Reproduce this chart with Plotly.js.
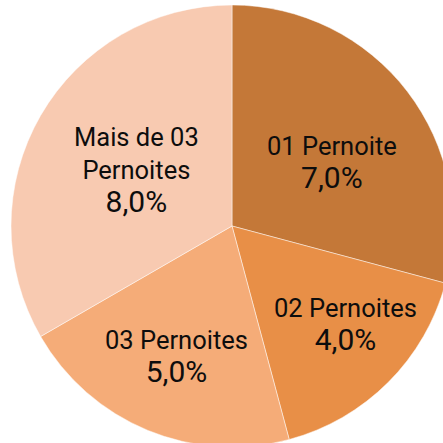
<!DOCTYPE html>
<html>
<head>
<meta charset="utf-8">
<script src="https://cdn.plot.ly/plotly-3.0.1.min.js"></script>
<style>
html,body{margin:0;padding:0;overflow:hidden;background:#fff;width:443px;height:443px;}
#chart{width:453px;height:447px;}
</style>
</head>
<body>
<div id="chart"></div>
<script>
const categories = ["01 Pernoite", "02 Pernoites", "03 Pernoites", "Mais de 03<br>Pernoites"];
const values = [7.0, 4.0, 5.0, 8.0];
const colors = ["#C47838", "#E88F47", "#F5AC78", "#F8CAB1"];

// label placement (styling): radial fraction and angular offset from slice mid-angle
const labelRadius = [0.533, 0.680, 0.645, 0.499];
const labelAngleOffset = [5.2, -3.8, 0.6, 0.5];

const trace = {
  type: "pie",
  labels: categories,
  values: values,
  sort: false,
  direction: "clockwise",
  rotation: 0,
  marker: {colors: colors, line: {color: "rgba(255,255,255,0.6)", width: 0.8}},
  textinfo: "none",
  hoverinfo: "none",
  showlegend: false
};

const total = values.reduce((a, b) => a + b, 0);
const fmt = v => v.toFixed(1).replace(".", ",") + "%";
let cum = 0;
const annotations = values.map((v, i) => {
  const mid = (cum + v / 2) / total * 360 + labelAngleOffset[i];
  cum += v;
  const a = mid * Math.PI / 180;
  return {
    xref: "paper", yref: "paper",
    x: 0.5 + 0.5 * labelRadius[i] * Math.sin(a),
    y: 0.5 + 0.5 * labelRadius[i] * Math.cos(a),
    xanchor: "center", yanchor: "middle",
    showarrow: false,
    text: categories[i] + "<br><span style='font-size:30px'>" + fmt(v) + "</span>",
    font: {family: "Roboto", size: 25.5, color: "#0d0d0d"}
  };
});

Plotly.newPlot("chart", [trace], {
  width: 453, height: 447,
  margin: {l: 11, r: 0, t: 5, b: 0},
  paper_bgcolor: "#fff",
  separators: ",.",
  showlegend: false,
  annotations: annotations
}, {staticPlot: true});
</script>
</body>
</html>
